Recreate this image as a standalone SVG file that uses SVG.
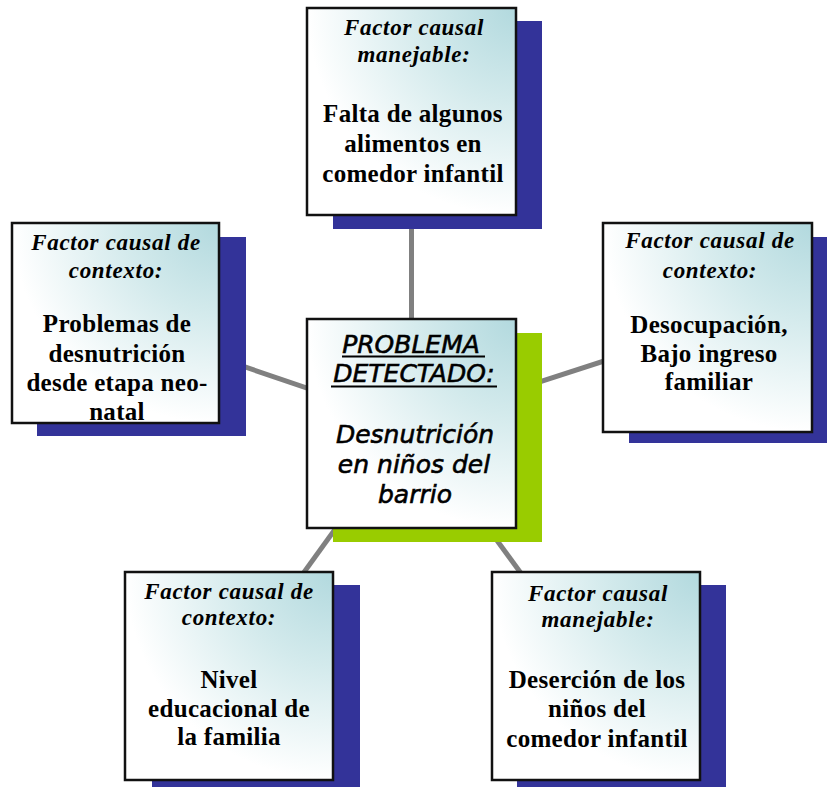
<svg xmlns="http://www.w3.org/2000/svg" width="827" height="787" viewBox="0 0 827 787">
<defs>
<radialGradient id="fill" cx="1" cy="0" r="1" fx="1" fy="0">
<stop offset="0" stop-color="#b2d9de"/>
<stop offset="0.45" stop-color="#d3eaec"/>
<stop offset="1" stop-color="#ffffff"/>
</radialGradient>
</defs>
<style>
.box{fill:url(#fill);stroke:#111;stroke-width:2.5}
.sh{fill:#333399}
.shg{fill:#99cc00}
.con line{stroke:#808080;stroke-width:5}
.it{font-family:"Liberation Serif","Times New Roman",serif;font-style:italic;font-weight:bold;font-size:23px;letter-spacing:0.7px;text-anchor:middle;fill:#000}
.bd{font-family:"Liberation Serif","Times New Roman",serif;font-weight:bold;font-size:25px;letter-spacing:0.3px;text-anchor:middle;fill:#000}
.ct{font-family:"DejaVu Sans",Verdana,sans-serif;font-style:italic;font-size:25px;text-anchor:middle;fill:#000;stroke:#000;stroke-width:0.6}
.ul{stroke:#000;stroke-width:2}
</style>
<g id="connectors" class="con">
<line x1="411.5" y1="215" x2="411.5" y2="320"/>
<line x1="115.5" y1="323" x2="411.5" y2="423.5"/>
<line x1="707.5" y1="327.5" x2="411.5" y2="423.5"/>
<line x1="229" y1="676" x2="411.5" y2="423.5"/>
<line x1="596" y1="676" x2="411.5" y2="423.5"/>
</g>
<g id="top">
<rect class="sh" x="333" y="21" width="209" height="208"/>
<rect class="box" x="307" y="8" width="209" height="207"/>
<text class="it" x="414" y="35">Factor causal</text>
<text class="it" x="414" y="62">manejable:</text>
<text class="bd" x="413" y="122">Falta de algunos</text>
<text class="bd" x="413" y="152">alimentos en</text>
<text class="bd" x="413" y="182">comedor infantil</text>
</g>
<g id="left">
<rect class="sh" x="37" y="237" width="209" height="199"/>
<rect class="box" x="12" y="223" width="207" height="200"/>
<text class="it" x="116" y="250">Factor causal de</text>
<text class="it" x="116" y="278">contexto:</text>
<text class="bd" x="117" y="332">Problemas de</text>
<text class="bd" x="117" y="362">desnutrición</text>
<text class="bd" x="117" y="391">desde etapa neo-</text>
<text class="bd" x="117" y="420">natal</text>
</g>
<g id="right">
<rect class="sh" x="629" y="237" width="200" height="206"/>
<rect class="box" x="603" y="223" width="209" height="209"/>
<text class="it" x="710" y="248">Factor causal de</text>
<text class="it" x="710" y="278">contexto:</text>
<text class="bd" x="709" y="333">Desocupación,</text>
<text class="bd" x="709" y="362">Bajo ingreso</text>
<text class="bd" x="709" y="390">familiar</text>
</g>
<g id="bottom-left">
<rect class="sh" x="152" y="585" width="208" height="205"/>
<rect class="box" x="125" y="572" width="208" height="208"/>
<text class="it" x="229" y="599">Factor causal de</text>
<text class="it" x="229" y="625">contexto:</text>
<text class="bd" x="229" y="688">Nivel</text>
<text class="bd" x="229" y="717">educacional de</text>
<text class="bd" x="229" y="745">la familia</text>
</g>
<g id="bottom-right">
<rect class="sh" x="517" y="585" width="209" height="205"/>
<rect class="box" x="492" y="572" width="208" height="208"/>
<text class="it" x="598" y="601">Factor causal</text>
<text class="it" x="598" y="627">manejable:</text>
<text class="bd" x="597" y="688">Deserción de los</text>
<text class="bd" x="597" y="717">niños del</text>
<text class="bd" x="597" y="747">comedor infantil</text>
</g>
<g id="center">
<rect class="shg" x="333" y="333" width="209" height="209"/>
<rect class="box" x="307" y="319" width="209" height="209"/>
<text class="ct" x="411" y="353">PROBLEMA</text>
<line class="ul" x1="342" y1="356.5" x2="485" y2="356.5"/>
<text class="ct" x="414" y="382">DETECTADO:</text>
<line class="ul" x1="331" y1="386.5" x2="497" y2="386.5"/>
<text class="ct" x="415" y="443">Desnutrición</text>
<text class="ct" x="414" y="473">en niños del</text>
<text class="ct" x="415" y="503">barrio</text>
</g>
</svg>
